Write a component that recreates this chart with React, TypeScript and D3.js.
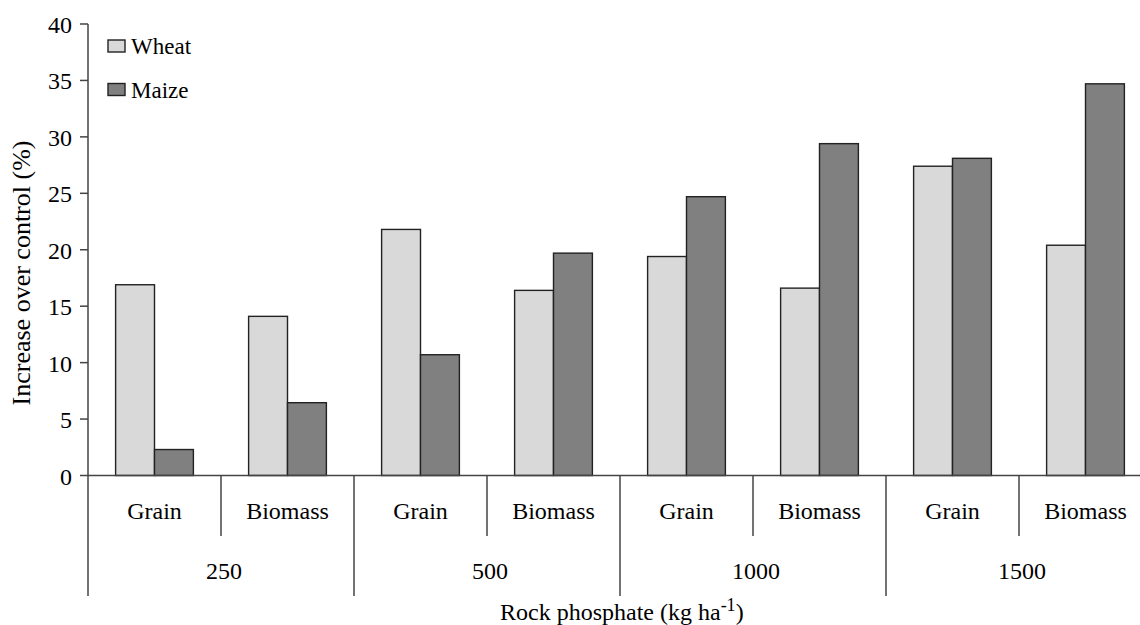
import React, { useRef, useEffect } from 'react';
import * as d3 from 'd3';

const doses = ["250", "500", "1000", "1500"];
const parts = ["Grain", "Biomass"];
const seriesNames = ["Wheat", "Maize"];
const seriesColors = ["#d9d9d9", "#808080"];
// values in dose x part order: 250 Grain, 250 Biomass, 500 Grain, ...
const wheatValues = [16.9, 14.1, 21.8, 16.4, 19.4, 16.6, 27.4, 20.4];
const maizeValues = [2.3, 6.45, 10.7, 19.7, 24.7, 29.4, 28.1, 34.7];
const yTicks = [0, 5, 10, 15, 20, 25, 30, 35, 40];

const width = 1140;
const height = 625;

export default function App() {
  const svgRef = useRef<SVGSVGElement>(null);

  useEffect(() => {
    if (!svgRef.current) return;
    const svg = d3.select(svgRef.current);
    svg.selectAll("*").remove();

    const left = 88;
    const right = 1152; // axis runs past the visible edge

    const y = d3.scaleLinear().domain([0, 40]).range([475.5, 24]);
    const xDose = d3.scaleBand().domain(doses).range([left, right]);
    const xPart = d3.scaleBand().domain(parts).range([0, xDose.bandwidth()]);
    const xSeries = d3.scaleBand()
      .domain(seriesNames)
      .range([0, xPart.bandwidth()])
      .paddingOuter(0.71);

    const rows = doses.flatMap((dose, i) =>
      parts.map((part, j) => ({
        dose,
        part,
        values: [wheatValues[i * parts.length + j], maizeValues[i * parts.length + j]]
      }))
    );

    // bars
    const g = svg.append("g");
    rows.forEach(row => {
      const x0 = xDose(row.dose)! + xPart(row.part)!;
      row.values.forEach((v, k) => {
        g.append("rect")
          .attr("x", x0 + xSeries(seriesNames[k])!)
          .attr("y", y(v))
          .attr("width", xSeries.bandwidth())
          .attr("height", y(0) - y(v))
          .attr("fill", seriesColors[k])
          .attr("stroke", "#222")
          .attr("stroke-width", 1.4);
      });
    });

    const axisColor = "#444";

    // y axis
    svg.append("line")
      .attr("x1", left).attr("x2", left)
      .attr("y1", y(40)).attr("y2", 596)
      .attr("stroke", axisColor).attr("stroke-width", 1.5);
    yTicks.forEach(t => {
      svg.append("line")
        .attr("x1", left - 8).attr("x2", left)
        .attr("y1", y(t)).attr("y2", y(t))
        .attr("stroke", axisColor).attr("stroke-width", 1.5);
      svg.append("text")
        .attr("x", 72)
        .attr("y", y(t) + 9)
        .attr("text-anchor", "end")
        .attr("font-size", 24)
        .text(t);
    });

    // x axis
    svg.append("line")
      .attr("x1", left).attr("x2", width)
      .attr("y1", y(0)).attr("y2", y(0))
      .attr("stroke", axisColor).attr("stroke-width", 1.5);

    doses.forEach(dose => {
      const x0 = xDose(dose)!;
      svg.append("line")
        .attr("x1", x0 + xDose.bandwidth()).attr("x2", x0 + xDose.bandwidth())
        .attr("y1", y(0)).attr("y2", 596)
        .attr("stroke", axisColor).attr("stroke-width", 1.5);
      svg.append("line")
        .attr("x1", x0 + xPart("Biomass")!).attr("x2", x0 + xPart("Biomass")!)
        .attr("y1", y(0)).attr("y2", 536)
        .attr("stroke", axisColor).attr("stroke-width", 1.5);
      parts.forEach(part => {
        svg.append("text")
          .attr("x", x0 + xPart(part)! + xPart.bandwidth() / 2)
          .attr("y", 519)
          .attr("text-anchor", "middle")
          .attr("font-size", 24)
          .text(part);
      });
      svg.append("text")
        .attr("x", x0 + xDose.bandwidth() / 2 + 3)
        .attr("y", 579)
        .attr("text-anchor", "middle")
        .attr("font-size", 24)
        .text(dose);
    });

    // x title
    const xt = svg.append("text")
      .attr("x", 500)
      .attr("y", 620)
      .attr("font-size", 24);
    xt.append("tspan").text("Rock phosphate (kg ha");
    xt.append("tspan").attr("dy", -9).attr("font-size", 18).text("-1");
    xt.append("tspan").attr("dy", 9).text(")");

    // y title
    svg.append("text")
      .attr("transform", "rotate(-90)")
      .attr("x", -273)
      .attr("y", 30)
      .attr("text-anchor", "middle")
      .attr("font-size", 26)
      .text("Increase over control (%)");

    // legend
    seriesNames.forEach((name, k) => {
      const ly = 40 + k * 43.5;
      svg.append("rect")
        .attr("x", 108).attr("y", ly)
        .attr("width", 17).attr("height", 12)
        .attr("fill", seriesColors[k])
        .attr("stroke", "#222").attr("stroke-width", 1.4);
      svg.append("text")
        .attr("x", 131).attr("y", ly + 14)
        .attr("font-size", 23)
        .text(name);
    });
  }, []);

  return (
    <svg
      ref={svgRef}
      width={width}
      height={height}
      fontFamily="Liberation Serif, Times New Roman, DejaVu Serif, serif"
      style={{ position: 'absolute', left: 0, top: 0, background: '#fff' }}
    />
  );
}
